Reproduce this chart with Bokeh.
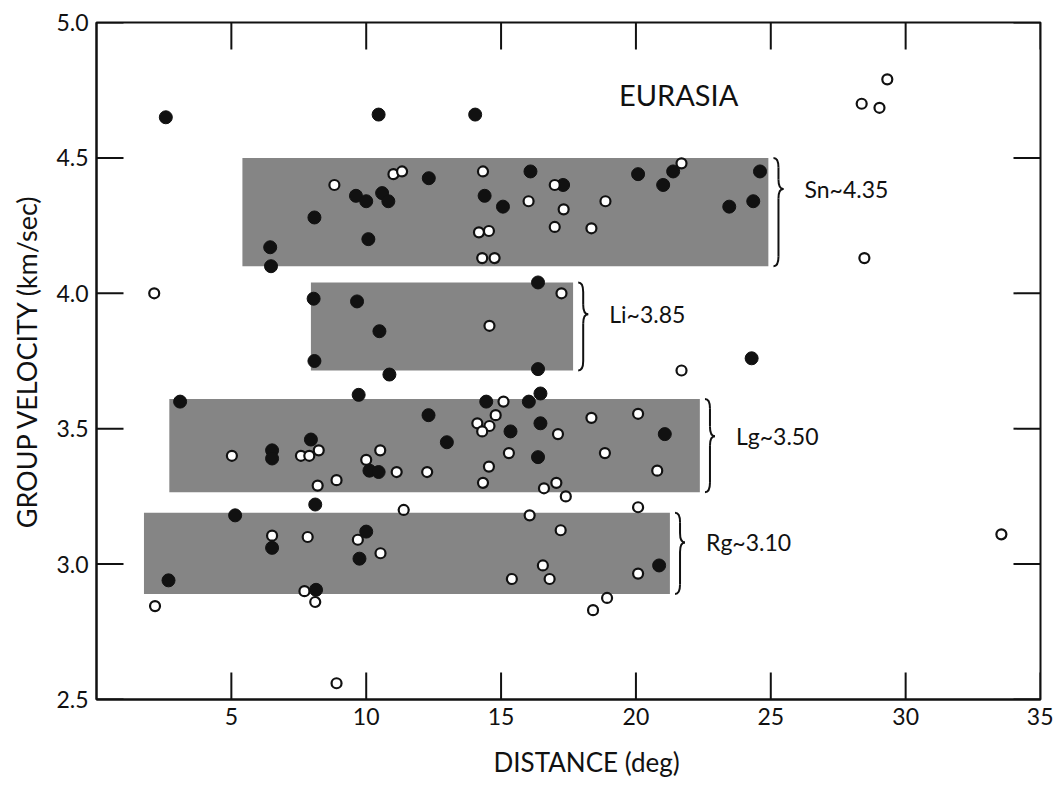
from bokeh.plotting import figure
from bokeh.models import Range1d, FixedTicker, Label, ColumnDataSource, Title
from bokeh.embed import file_html
from bokeh.resources import INLINE

# ---------------- data ----------------
# solid symbols (distance in deg, group velocity in km/sec)
filled_dist = [2.57, 10.46, 14.04,
               8.08, 6.44, 6.47, 12.32, 16.09, 9.62, 10.0, 10.59, 10.82, 14.39, 15.07,
               10.08, 17.30, 20.08, 21.01, 21.38, 24.60, 23.46, 24.35,
               8.05, 8.08, 9.66, 10.49, 16.37, 16.37, 10.86, 24.29,
               3.10, 9.72, 6.51, 6.51, 7.95, 12.31, 12.99, 10.12, 10.46, 14.45, 16.03,
               16.46, 15.35, 16.46, 16.37, 21.07,
               8.11, 5.14, 6.51, 2.67, 8.14, 10.0, 9.75, 20.86]
filled_vel = [4.65, 4.66, 4.66,
              4.28, 4.17, 4.10, 4.425, 4.45, 4.36, 4.34, 4.37, 4.34, 4.36, 4.32,
              4.20, 4.40, 4.44, 4.40, 4.45, 4.45, 4.32, 4.34,
              3.98, 3.75, 3.97, 3.86, 4.04, 3.72, 3.70, 3.76,
              3.60, 3.625, 3.42, 3.39, 3.46, 3.55, 3.45, 3.345, 3.34, 3.60, 3.60,
              3.63, 3.49, 3.52, 3.395, 3.48,
              3.22, 3.18, 3.06, 2.94, 2.905, 3.12, 3.02, 2.995]

# open symbols
open_dist = [29.32, 28.37, 29.03, 28.47, 2.14, 21.69, 33.55, 8.90,
             8.82, 11.01, 11.33, 14.33, 16.02, 14.18, 14.55, 14.30, 14.76, 16.99,
             21.69, 18.87, 17.32, 16.99, 18.35,
             14.57, 17.24,
             5.02, 7.58, 7.89, 8.24, 8.20, 8.90, 10.52, 10.0, 11.13, 12.26, 15.09,
             14.80, 14.12, 14.57, 14.30, 17.11, 15.29, 14.55, 14.33, 16.59, 17.05,
             17.40, 18.35, 20.08, 18.85, 20.79,
             20.08, 20.08, 18.93, 18.41, 6.51, 7.83, 2.17, 7.71, 8.11, 11.39, 9.69,
             10.53, 16.06, 17.21, 16.55, 16.80, 15.40]
open_vel = [4.79, 4.70, 4.685, 4.13, 4.00, 3.715, 3.11, 2.56,
            4.40, 4.44, 4.45, 4.45, 4.34, 4.225, 4.23, 4.13, 4.13, 4.40,
            4.48, 4.34, 4.31, 4.245, 4.24,
            3.88, 4.00,
            3.40, 3.40, 3.40, 3.42, 3.29, 3.31, 3.42, 3.385, 3.34, 3.34, 3.60,
            3.55, 3.52, 3.51, 3.49, 3.48, 3.41, 3.36, 3.30, 3.28, 3.30,
            3.25, 3.54, 3.555, 3.41, 3.345,
            3.21, 2.965, 2.875, 2.83, 3.105, 3.10, 2.845, 2.90, 2.86, 3.20, 3.09,
            3.04, 3.18, 3.125, 2.995, 2.945, 2.945]

# phase velocity bands
phase_names = ["Sn~4.35", "Li~3.85", "Lg~3.50", "Rg~3.10"]
band_dist_min = [5.41, 7.95, 2.70, 1.76]
band_dist_max = [24.91, 17.67, 22.37, 21.26]
band_vel_min = [4.10, 3.715, 3.265, 2.89]
band_vel_max = [4.50, 4.04, 3.61, 3.19]

x_ticks = [5, 10, 15, 20, 25, 30, 35]
y_ticks = [2.5, 3.0, 3.5, 4.0, 4.5, 5.0]
y_tick_labels = ["2.5", "3.0", "3.5", "4.0", "4.5", "5.0"]

# ---------------- figure ----------------
FONT = "Lato"
INK = "#111111"
FW, FH = 944, 677
X0, X1 = 0, 35
Y0, Y1 = 2.5, 5.0

p = figure(output_backend="svg", toolbar_location=None,
           frame_width=FW, frame_height=FH,
           min_border_left=96, min_border_right=13,
           min_border_top=22, min_border_bottom=91,
           x_range=Range1d(X0, X1), y_range=Range1d(Y0, Y1),
           y_axis_label="GROUP VELOCITY (km/sec)")
p.grid.visible = False
p.background_fill_color = "white"
p.border_fill_color = "white"
p.outline_line_color = INK
p.outline_line_width = 2

for ax in (p.xaxis[0], p.yaxis[0]):
    ax.major_tick_in = 0
    ax.major_tick_out = 0
    ax.minor_tick_line_color = None
    ax.axis_line_color = INK
    ax.axis_line_width = 2
    ax.major_label_text_font = FONT
    ax.major_label_text_color = INK
    ax.major_label_text_font_size = "23px"

xax = p.xaxis[0]
xax.ticker = FixedTicker(ticks=x_ticks)
xax.major_label_standoff = 8

yax = p.yaxis[0]
yax.ticker = FixedTicker(ticks=y_ticks)
yax.major_label_overrides = {t: s for t, s in zip(y_ticks, y_tick_labels)}
yax.major_label_standoff = 8
yax.axis_label_text_font = FONT
yax.axis_label_text_font_size = "27px"
yax.axis_label_text_font_style = "normal"
yax.axis_label_text_color = INK
yax.axis_label_standoff = 10

# inward ticks on all four sides (27 px long)
tx = 27 * (X1 - X0) / FW
ty = 27 * (Y1 - Y0) / FH
p.segment(x0=x_ticks, y0=[Y0] * len(x_ticks), x1=x_ticks, y1=[Y0 + ty] * len(x_ticks),
          line_color=INK, line_width=2)
p.segment(x0=x_ticks, y0=[Y1] * len(x_ticks), x1=x_ticks, y1=[Y1 - ty] * len(x_ticks),
          line_color=INK, line_width=2)
p.segment(x0=[X0] * len(y_ticks), y0=y_ticks, x1=[X0 + tx] * len(y_ticks), y1=y_ticks,
          line_color=INK, line_width=2)
p.segment(x0=[X1] * len(y_ticks), y0=y_ticks, x1=[X1 - tx] * len(y_ticks), y1=y_ticks,
          line_color=INK, line_width=2)

# shaded bands
bands = ColumnDataSource(dict(left=band_dist_min, right=band_dist_max,
                              bottom=band_vel_min, top=band_vel_max))
p.quad(left="left", right="right", bottom="bottom", top="top", source=bands,
       fill_color="#858585", line_color=None)

# braces and labels to the right of each band
gap = 0.19
bw = 0.37
r = 0.035
label_dy = [0.085, 0.045, 0.035, 0.04]
for i, name in enumerate(phase_names):
    x0 = band_dist_max[i] + gap
    xm = x0 + bw / 2
    x1 = x0 + bw
    top = band_vel_max[i]
    bot = band_vel_min[i]
    tip = (top + bot) / 2 + label_dy[i]
    p.quadratic(x0=[x0], y0=[top], x1=[xm], y1=[top - r], cx=[xm], cy=[top],
                line_color=INK, line_width=2)
    p.segment(x0=[xm], y0=[top - r], x1=[xm], y1=[tip + r], line_color=INK, line_width=2)
    p.quadratic(x0=[xm], y0=[tip + r], x1=[x1], y1=[tip], cx=[xm], cy=[tip],
                line_color=INK, line_width=2)
    p.quadratic(x0=[x1], y0=[tip], x1=[xm], y1=[tip - r], cx=[xm], cy=[tip],
                line_color=INK, line_width=2)
    p.segment(x0=[xm], y0=[tip - r], x1=[xm], y1=[bot + r], line_color=INK, line_width=2)
    p.quadratic(x0=[xm], y0=[bot + r], x1=[x0], y1=[bot], cx=[xm], cy=[bot],
                line_color=INK, line_width=2)
    p.add_layout(Label(x=x1 + 0.78, y=tip, text=name, text_font=FONT,
                       text_font_size="23px", text_color=INK, text_baseline="middle",
                       text_align="left"))

# data symbols
p.scatter(filled_dist, filled_vel, marker="circle", size=13,
          fill_color=INK, line_color=INK, line_width=1)
p.scatter(open_dist, open_vel, marker="circle", size=10,
          fill_color="white", line_color=INK, line_width=2.2)

# region title
p.add_layout(Label(x=19.37, y=4.734, text="EURASIA", text_font=FONT,
                   text_font_size="29px", text_color=INK, text_baseline="middle",
                   text_align="left"))

# x axis title
p.add_layout(Title(text="DISTANCE (deg)", align="left", offset=397, standoff=33,
                   text_font=FONT, text_font_size="26px", text_font_style="normal",
                   text_color=INK), "below")

open("out.html", "w").write(file_html(p, INLINE))
